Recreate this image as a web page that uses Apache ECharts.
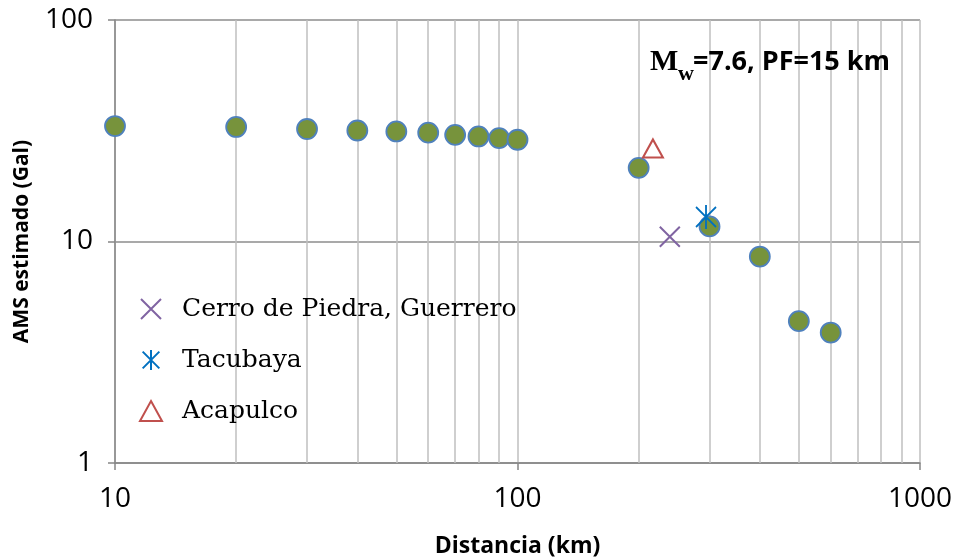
<!DOCTYPE html>
<html><head><meta charset="utf-8">
<script src="https://cdn.jsdelivr.net/npm/echarts@6/dist/echarts.min.js"></script>
<style>html,body{margin:0;padding:0;background:#fff}#c{width:954px;height:559px}</style>
</head><body><div id="c"></div>
<script>
const distances = [10,20,30,40,50,60,70,80,90,100,200,300,400,500,600];
const amsEstimado = [33.2,32.9,32.2,31.7,31.4,31.0,30.3,29.8,29.3,28.8,21.5,11.7,8.55,4.37,3.88];
const cerroDePiedra = [[239, 10.5]];
const tacubaya = [[294, 12.9]];
const acapulco = [[217, 26.3]];
const minorGridX = [20,30,40,50,60,70,80,90,200,300,400,500,600,700,800,900];
const stationNames = ['Cerro de Piedra, Guerrero','Tacubaya','Acapulco'];

const chart = echarts.init(document.getElementById('c'), null, {renderer:'canvas'});
const sansFont = '"Open Sans", "Liberation Sans", sans-serif';
const serifFont = '"DejaVu Serif", "Liberation Serif", serif';
const serifBold = '"Liberation Serif", "DejaVu Serif", serif';

chart.setOption({
  animation: false,
  backgroundColor: '#fff',
  grid: {left: 115, right: 34, top: 20, bottom: 96, containLabel: false, outerBoundsMode: 'none'},
  xAxis: {
    type: 'log', logBase: 10, min: 10, max: 1000,
    name: 'Distancia (km)', nameLocation: 'middle', nameGap: 72,
    nameTextStyle: {fontFamily: sansFont, fontWeight: 'bold', fontSize: 23, color: '#000'},
    axisLine: {show: true, lineStyle: {color: '#868686', width: 1.5}},
    axisTick: {show: true, length: 7, lineStyle: {color: '#868686', width: 1.5}},
    axisLabel: {fontFamily: sansFont, fontSize: 28, color: '#000', margin: 22, formatter: v => String(v)},
    splitLine: {show: true, lineStyle: {color: '#bfbfbf', width: 1.5}},
    minorTick: {show: false}, minorSplitLine: {show: false}
  },
  yAxis: {
    type: 'log', logBase: 10, min: 1, max: 100,
    name: 'AMS estimado (Gal)', nameLocation: 'middle', nameGap: 82,
    nameTextStyle: {fontFamily: sansFont, fontWeight: 'bold', fontSize: 21, color: '#000'},
    axisLine: {show: true, lineStyle: {color: '#868686', width: 1.5}},
    axisTick: {show: true, length: 7, lineStyle: {color: '#868686', width: 1.5}},
    axisLabel: {fontFamily: sansFont, fontSize: 28, color: '#000', margin: 22, formatter: v => String(v)},
    splitLine: {show: true, lineStyle: {color: '#8c8c8c', width: 1.5}}
  },
  legend: {
    orient: 'vertical', left: 134, top: 290, itemGap: 23,
    itemWidth: 22, itemHeight: 20,
    data: stationNames,
    textStyle: {fontFamily: serifFont, fontSize: 25, color: '#000', lineHeight: 28, padding: [0,0,0,15]}
  },
  graphic: [
    {type: 'text', x: 650, y: 62, z: 100,
     style: {text: 'M', fontFamily: serifBold, fontWeight: 'bold', fontSize: 30, fill: '#000', verticalAlign: 'middle'}},
    {type: 'text', x: 678, y: 74, z: 100,
     style: {text: 'w', fontFamily: serifBold, fontWeight: 'bold', fontSize: 22, fill: '#000', verticalAlign: 'middle'}},
    {type: 'text', x: 693, y: 62, z: 100,
     style: {text: '=7.6, PF=15 km', fontFamily: sansFont, fontWeight: 'bold', fontSize: 27, fill: '#000', verticalAlign: 'middle'}}
  ],
  series: [
    {
      name: 'AMS', type: 'scatter', z: 3,
      data: distances.map((d, i) => [d, amsEstimado[i]]),
      symbol: 'circle', symbolSize: 20,
      itemStyle: {color: '#77933C', borderColor: '#4F81BD', borderWidth: 1.8, opacity: 1},
      markLine: {
        silent: true, z: 1, symbol: ['none','none'], label: {show: false},
        lineStyle: {color: '#bfbfbf', width: 1.5, type: 'solid', opacity: 1},
        emphasis: {disabled: true},
        data: minorGridX.map(v => ({xAxis: v}))
      }
    },
    {
      name: stationNames[0], type: 'scatter', z: 4,
      data: cerroDePiedra,
      symbol: 'path://M0,0L10,10M10,0L0,10', symbolSize: 20,
      itemStyle: {color: 'rgba(0,0,0,0)', borderColor: '#8064A2', borderWidth: 2, opacity: 1}
    },
    {
      name: stationNames[1], type: 'scatter', z: 5,
      data: tacubaya,
      symbol: 'path://M0,1L10,11M10,1L0,11M5,0L5,12', symbolSize: [20, 24],
      itemStyle: {color: 'rgba(0,0,0,0)', borderColor: '#0070C0', borderWidth: 2, opacity: 1}
    },
    {
      name: stationNames[2], type: 'scatter', z: 4,
      data: acapulco,
      symbol: 'triangle', symbolSize: [20, 18],
      itemStyle: {color: 'rgba(0,0,0,0)', borderColor: '#C0504D', borderWidth: 2, opacity: 1}
    }
  ]
});
</script>
</body></html>
